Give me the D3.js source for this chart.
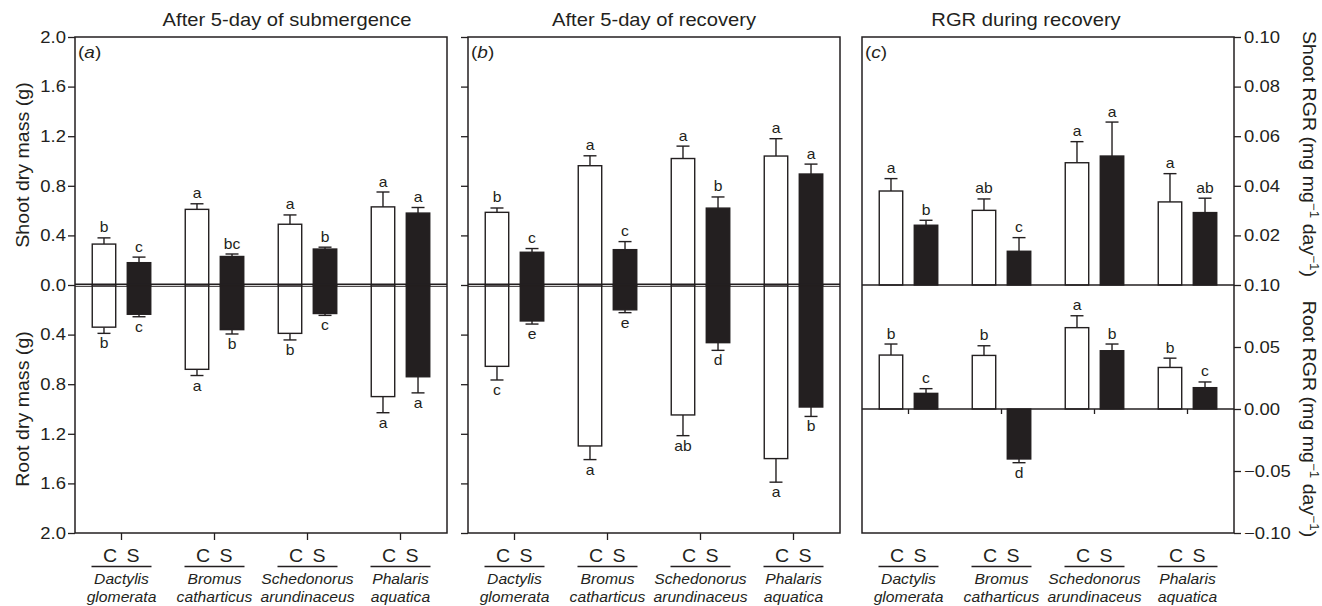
<!DOCTYPE html>
<html>
<head>
<meta charset="utf-8">
<script src="https://cdn.jsdelivr.net/npm/d3@7"></script>
<style>
  body { margin: 0; background: #fff; }
  svg text { font-family: "Liberation Sans", Arial, Helvetica, sans-serif; fill: #231f20; }
</style>
</head>
<body>
<svg id="chart" width="1322" height="606"></svg>
<script>
// species and treatments (C = control, S = submerged)
var species = ["Dactylis glomerata", "Bromus catharticus", "Schedonorus arundinaceus", "Phalaris aquatica"];
var speciesLines = [["Dactylis", "glomerata"], ["Bromus", "catharticus"], ["Schedonorus", "arundinaceus"], ["Phalaris", "aquatica"]];
var treatments = ["C", "S"];

// (a) after 5-day of submergence, [C, S] per species
var subShoot = [[0.33, 0.18], [0.61, 0.23], [0.49, 0.29], [0.63, 0.58]];
var subShootSE = [[0.05, 0.045], [0.045, 0.02], [0.075, 0.015], [0.12, 0.045]];
var subShootLet = [["b", "c"], ["a", "bc"], ["a", "b"], ["a", "a"]];
var subRoot = [[0.34, 0.236], [0.68, 0.36], [0.39, 0.23], [0.90, 0.74]];
var subRootSE = [[0.05, 0.02], [0.05, 0.035], [0.053, 0.015], [0.13, 0.13]];
var subRootLet = [["b", "c"], ["a", "b"], ["b", "c"], ["a", "a"]];

// (b) after 5-day of recovery
var recShoot = [[0.586, 0.264], [0.962, 0.285], [1.02, 0.62], [1.04, 0.895]];
var recShootSE = [[0.035, 0.03], [0.08, 0.065], [0.10, 0.09], [0.14, 0.08]];
var recShootLet = [["b", "c"], ["a", "c"], ["a", "b"], ["a", "a"]];
var recRoot = [[0.656, 0.29], [1.298, 0.20], [1.048, 0.465], [1.40, 0.984]];
var recRootSE = [[0.11, 0.025], [0.11, 0.023], [0.167, 0.062], [0.19, 0.076]];
var recRootLet = [["c", "e"], ["a", "e"], ["ab", "d"], ["a", "b"]];

// (c) RGR during recovery
var rgrShoot = [[0.0379, 0.0241], [0.0301, 0.0136], [0.0493, 0.052], [0.0335, 0.0292]];
var rgrShootSE = [[0.005, 0.002], [0.0046, 0.0055], [0.0085, 0.0137], [0.0114, 0.0058]];
var rgrShootLet = [["a", "b"], ["ab", "c"], ["a", "a"], ["a", "ab"]];
var rgrRoot = [[0.0435, 0.0126], [0.0432, -0.0403], [0.0656, 0.047], [0.0335, 0.0172]];
var rgrRootSE = [[0.0089, 0.0038], [0.0078, 0.003], [0.0096, 0.0054], [0.0075, 0.0046]];
var rgrRootLet = [["b", "c"], ["b", "d"], ["a", "b"], ["b", "c"]];

// tick values
var massTicks = [0, 0.4, 0.8, 1.2, 1.6, 2.0];
var shootRgrTicks = [0.02, 0.04, 0.06, 0.08, 0.10];
var rootRgrTicks = [-0.10, -0.05, 0, 0.05, 0.10];

var SX = 1.12, INK = "#231f20";
var svg = d3.select("#chart");
var panelX = [75, 468, 862], panelW = 372;
var yTop = 37, yMid = 285, yBot = 533;

var yShoot = d3.scaleLinear().domain([0, 2]).range([yMid, yTop]);
var yRoot = d3.scaleLinear().domain([0, 2]).range([yMid, yBot]);
var yShootRgr = d3.scaleLinear().domain([0, 0.1]).range([yMid, yTop]);
var yRootRgr = d3.scaleLinear().domain([-0.1, 0.1]).range([yBot, yMid]);
var sub = d3.scaleBand().domain(treatments).range([-29.25, 29.25]).paddingInner(0.33);

// text helper, glyphs a bit wider than Liberation Sans
function label(g, x, y, str, size, opts) {
  opts = opts || {};
  var t = g.append("text")
    .attr("transform", "translate(" + x + "," + y + ")" + (opts.rotate ? " rotate(" + opts.rotate + ")" : "") + " scale(" + SX + ",1)")
    .attr("text-anchor", opts.anchor || "middle")
    .style("font-size", size + "px");
  if (opts.italic) t.style("font-style", "italic");
  if (str != null) t.text(str);
  return t;
}

function styleAxis(g, size) {
  g.attr("font-family", null).attr("font-size", null);
  g.select(".domain").remove();
  g.selectAll(".tick line").attr("stroke", INK).attr("stroke-width", 1.3);
  g.selectAll(".tick text").each(function () {
    var t = d3.select(this);
    t.attr("x", +t.attr("x") / SX).attr("transform", "scale(" + SX + ",1)")
      .style("font-size", size + "px").attr("fill", INK);
  });
}

function drawBars(g, x, y, means, ses, letters) {
  var rows = [];
  species.forEach(function (sp, i) {
    treatments.forEach(function (tr, j) {
      rows.push({ sp: sp, tr: tr, v: means[i][j], se: ses[i][j], lab: letters[i][j] });
    });
  });
  var bw = sub.bandwidth();
  g.append("g").selectAll("g").data(rows).join("g")
    .attr("transform", function (d) { return "translate(" + (x(d.sp) + x.bandwidth() / 2 + sub(d.tr)) + ",0)"; })
    .each(function (d) {
      var s = d3.select(this);
      var e = d.v + (d.v < 0 ? -d.se : d.se);
      var y0 = y(0), yv = y(d.v), ye = y(e);
      s.append("line").attr("x1", bw / 2).attr("x2", bw / 2).attr("y1", yv).attr("y2", ye)
        .attr("stroke", INK).attr("stroke-width", 1.4);
      s.append("line").attr("x1", bw / 2 - 6.5).attr("x2", bw / 2 + 6.5).attr("y1", ye).attr("y2", ye)
        .attr("stroke", INK).attr("stroke-width", 1.4);
      s.append("rect").attr("x", 0).attr("y", Math.min(y0, yv)).attr("width", bw).attr("height", Math.abs(yv - y0))
        .attr("fill", d.tr == "C" ? "#fff" : INK).attr("stroke", INK).attr("stroke-width", 1.4);
      label(s, bw / 2, ye < y0 ? ye - 5.5 : ye + 15, d.lab, 14);
    });
}

function hline(g, x1, x2, y, w) {
  g.append("line").attr("x1", x1).attr("x2", x2).attr("y1", y).attr("y2", y)
    .attr("stroke", INK).attr("stroke-width", w || 1.3);
}

var panels = [
  { title: "After 5-day of submergence", titleX: 287, tag: "a",
    upper: [yShoot, subShoot, subShootSE, subShootLet], lower: [yRoot, subRoot, subRootSE, subRootLet] },
  { title: "After 5-day of recovery", titleX: 654, tag: "b",
    upper: [yShoot, recShoot, recShootSE, recShootLet], lower: [yRoot, recRoot, recRootSE, recRootLet] },
  { title: "RGR during recovery", titleX: 1026, tag: "c",
    upper: [yShootRgr, rgrShoot, rgrShootSE, rgrShootLet], lower: [yRootRgr, rgrRoot, rgrRootSE, rgrRootLet] }
];

panels.forEach(function (p, k) {
  var x0 = panelX[k];
  var x = d3.scaleBand().domain(species).range([x0, x0 + panelW]);
  var g = svg.append("g");

  drawBars(g, x, p.upper[0], p.upper[1], p.upper[2], p.upper[3]);
  drawBars(g, x, p.lower[0], p.lower[1], p.lower[2], p.lower[3]);

  // frame and middle lines
  g.append("rect").attr("x", x0).attr("y", yTop).attr("width", panelW).attr("height", yBot - yTop)
    .attr("fill", "none").attr("stroke", INK).attr("stroke-width", 1.5);
  if (k < 2) {
    hline(g, x0, x0 + panelW, yMid - 0.8, 1.4);
    hline(g, x0, x0 + panelW, yMid + 1.3, 1.0);
    var ga = g.append("g").attr("transform", "translate(0," + yBot + ")")
      .call(d3.axisBottom(x).tickSize(7).tickFormat(""));
    styleAxis(ga, 16);
    var fmt = k == 0 ? d3.format(".1f") : function () { return ""; };
    var gl = g.append("g").attr("transform", "translate(" + x0 + ",0)")
      .call(d3.axisLeft(yShoot).tickValues(massTicks).tickSize(7).tickPadding(2).tickFormat(fmt));
    styleAxis(gl, 16.5);
    var gr = g.append("g").attr("transform", "translate(" + x0 + ",0)")
      .call(d3.axisLeft(yRoot).tickValues(massTicks.slice(1)).tickSize(7).tickPadding(2).tickFormat(fmt));
    styleAxis(gr, 16.5);
  } else {
    hline(g, x0, x0 + panelW, yMid, 1.5);
    hline(g, x0, x0 + panelW, yRootRgr(0), 1.4);
    var gz = g.append("g").attr("transform", "translate(0," + yRootRgr(0) + ")")
      .call(d3.axisBottom(x).tickSize(5).tickFormat(""));
    styleAxis(gz, 16);
    var gs = g.append("g").attr("transform", "translate(" + (x0 + panelW) + ",0)")
      .call(d3.axisRight(yShootRgr).tickValues(shootRgrTicks).tickSize(7).tickPadding(3).tickFormat(d3.format(".2f")));
    styleAxis(gs, 16.5);
    var grr = g.append("g").attr("transform", "translate(" + (x0 + panelW) + ",0)")
      .call(d3.axisRight(yRootRgr).tickValues(rootRgrTicks).tickSize(7).tickPadding(3).tickFormat(d3.format(".2f")));
    styleAxis(grr, 16.5);
  }

  // title and panel tag
  label(g, p.titleX, 26, p.title, 18);
  var tg = label(g, x0 + 3, 58, null, 17, { anchor: "start" });
  tg.append("tspan").text("(");
  tg.append("tspan").style("font-style", "italic").text(p.tag);
  tg.append("tspan").text(")");

  // group labels under the panel
  species.forEach(function (sp, i) {
    var cx = x(sp) + x.bandwidth() / 2;
    label(g, cx - 11.5, 561.5, "C", 17.5);
    label(g, cx + 11.5, 561.5, "S", 17.5);
    hline(g, cx - 30, cx + 30, 566.5, 1.3);
    label(g, cx, 583.5, speciesLines[i][0], 14, { italic: true });
    label(g, cx, 601.5, speciesLines[i][1], 14, { italic: true });
  });
});

// axis titles
label(svg, 29, 165, "Shoot dry mass (g)", 17.5, { rotate: -90 });
label(svg, 29, 409, "Root dry mass (g)", 17.5, { rotate: -90 });

function rgrTitle(y, part) {
  var t = label(svg, 1303, y, null, 17.5, { rotate: 90 });
  t.append("tspan").text(part + " RGR (mg mg");
  t.append("tspan").attr("dy", -7).style("font-size", "12px").text("\u22121");
  t.append("tspan").attr("dy", 7).text(" day");
  t.append("tspan").attr("dy", -7).style("font-size", "12px").text("\u22121");
  t.append("tspan").attr("dy", 7).text(")");
}
rgrTitle(154, "Shoot");
rgrTitle(419, "Root");
</script>
</body>
</html>
